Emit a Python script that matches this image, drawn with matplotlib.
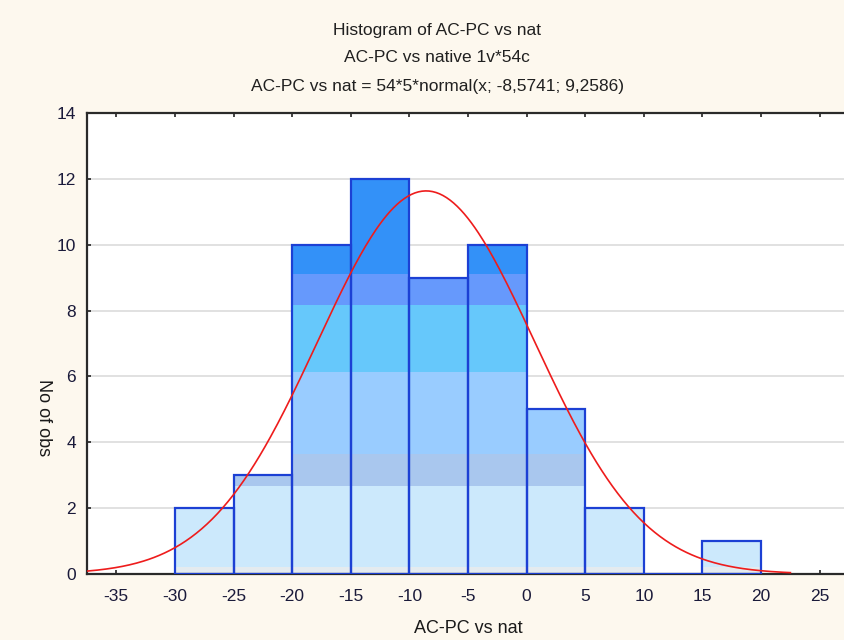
import matplotlib
matplotlib.use("Agg")
import matplotlib.pyplot as plt
import numpy as np

# histogram data
bin_left = np.array([-30, -25, -20, -15, -10, -5, 0, 5, 10, 15])
counts = np.array([2, 3, 10, 12, 9, 10, 5, 2, 0, 1])
bin_width = 5

# fitted normal: 54*5*normal(x; mean; sd)
n_obs = 54
fit_mean = -8.5741
fit_sd = 9.2586

# colour bands of the bar fill (y ranges)
band_edges = [0, 0.22, 2.68, 3.65, 6.12, 8.16, 9.1, 14]
band_colors = ["#e4ebef", "#cce9fc", "#a9c7ee", "#99ccff", "#66c8fb", "#6699fc", "#3391f8"]

x_ticks = np.arange(-35, 30, 5)
y_ticks = np.arange(0, 16, 2)

plt.rcParams["font.family"] = ["Liberation Sans", "DejaVu Sans"]

bg = "#fdf8ee"
fig = plt.figure(figsize=(8.44, 6.4), dpi=100, facecolor=bg)
ax = fig.add_axes([87 / 844, 66 / 640, 762 / 844, 461 / 640])
ax.set_facecolor("white")

centers = bin_left + bin_width / 2
for lo, hi, col in zip(band_edges[:-1], band_edges[1:], band_colors):
    h = np.clip(counts, lo, hi) - lo
    ax.bar(centers, h, width=bin_width, bottom=lo, color=col,
           edgecolor="none", linewidth=0, zorder=2)

ax.bar(centers, counts, width=bin_width, facecolor="none",
       edgecolor="#1c40d4", linewidth=1.6, zorder=3)

xs = np.linspace(-37.5, 22.5, 400)
ys = n_obs * bin_width * np.exp(-0.5 * ((xs - fit_mean) / fit_sd) ** 2) / (fit_sd * np.sqrt(2 * np.pi))
ax.plot(xs, ys, color="#ee1c1c", linewidth=1.2, zorder=4)

ax.set_xlim(-37.5, 27.5)
ax.set_ylim(0, 14)
ax.set_xticks(x_ticks)
ax.set_yticks(y_ticks)
ax.set_xticklabels([str(t) for t in x_ticks])
ax.grid(axis="y", color="#dcdcdc", linewidth=1.2, zorder=0)
ax.set_axisbelow(True)

for s in ax.spines.values():
    s.set_color("#2a2a2a")
    s.set_linewidth(1.6)

ax.tick_params(direction="in", length=3, width=1.2, color="#222222",
               top=True, labelsize=12.5, labelcolor="#1a1a3a")
ax.tick_params(axis="x", pad=11)
ax.tick_params(axis="y", pad=8)

ax.set_xlabel("AC-PC vs nat", fontsize=13, color="#1a1a1a", labelpad=11)
fig.text(43 / 844, 1 - 418 / 640, "No of obs", rotation=270, ha="center", va="center",
         fontsize=13, color="#1a1a1a")

title_kw = dict(ha="center", va="center", fontsize=12.5, color="#202020")
fig.text(0.518, 1 - 30 / 640, "Histogram of AC-PC vs nat", **title_kw)
fig.text(0.518, 1 - 57 / 640, "AC-PC vs native 1v*54c", **title_kw)
fig.text(0.518, 1 - 86 / 640, "AC-PC vs nat = 54*5*normal(x; -8,5741; 9,2586)", **title_kw)

fig.savefig("out.png", dpi=100, facecolor=bg)
